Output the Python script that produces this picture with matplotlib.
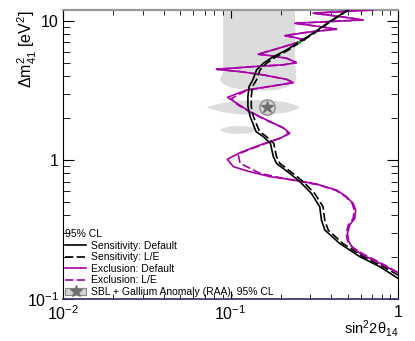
import numpy as np
import matplotlib
matplotlib.use("Agg")
import matplotlib.pyplot as plt
from matplotlib.lines import Line2D
from matplotlib.patches import Patch

plt.rcParams['font.family'] = ['Liberation Sans', 'DejaVu Sans']
plt.rcParams['mathtext.fontset'] = 'custom'
plt.rcParams['mathtext.rm'] = 'Liberation Sans'
plt.rcParams['mathtext.it'] = 'Liberation Sans:italic'

# sensitivity contours (sin^2 2theta14, dm2_41)
sens_def_x = [0.504, 0.391, 0.311, 0.259, 0.216, 0.180, 0.157, 0.143, 0.136, 0.129, 0.127, 0.127,
              0.131, 0.142, 0.157, 0.173, 0.180, 0.188, 0.226, 0.259, 0.304, 0.341, 0.349, 0.366,
              0.449, 0.590, 0.778, 1.0]
sens_def_y = [12.0, 9.9, 8.15, 7.1, 6.18, 5.53, 4.96, 4.44, 3.77, 3.37, 2.86, 2.42,
              2.05, 1.60, 1.47, 1.32, 1.06, 0.946, 0.80, 0.70, 0.575, 0.461, 0.37, 0.313,
              0.251, 0.202, 0.171, 0.141]
sens_le_x = [0.508, 0.396, 0.316, 0.264, 0.222, 0.187, 0.164, 0.150, 0.143, 0.135, 0.133, 0.133,
             0.137, 0.149, 0.164, 0.181, 0.188, 0.197, 0.236, 0.271, 0.318, 0.357, 0.365, 0.383,
             0.469, 0.616, 0.812, 1.0]
sens_le_y = [12.0, 9.9, 8.15, 7.1, 6.18, 5.53, 4.96, 4.44, 3.77, 3.37, 2.86, 2.42,
             2.05, 1.60, 1.47, 1.32, 1.06, 0.946, 0.80, 0.70, 0.575, 0.461, 0.37, 0.313,
             0.251, 0.202, 0.171, 0.149]

# exclusion contours
excl_def_x = [1.0, 0.892, 0.743, 0.618, 0.539, 0.508, 0.499, 0.515, 0.552, 0.559, 0.539, 0.492,
              0.429, 0.326, 0.237, 0.172, 0.130, 0.104, 0.0955, 0.114, 0.150, 0.197, 0.226,
              0.206, 0.164, 0.130, 0.109, 0.096, 0.125, 0.180, 0.237, 0.216, 0.157, 0.114,
              0.0825, 0.1365, 0.206, 0.2475, 0.216, 0.172, 0.146, 0.180, 0.226, 0.2775, 0.237,
              0.211, 0.297, 0.429, 0.341, 0.242, 0.391, 0.618, 0.449, 0.311, 0.470, 0.709]
excl_def_y = [0.155, 0.166, 0.186, 0.207, 0.231, 0.259, 0.297, 0.341, 0.380, 0.437, 0.488, 0.545,
              0.608, 0.672, 0.718, 0.759, 0.824, 0.895, 1.011, 1.129, 1.282, 1.432, 1.555,
              1.71, 1.94, 2.23, 2.56, 2.82, 3.19, 3.41, 3.60, 3.80, 4.09, 4.32,
              4.49, 4.69, 4.83, 5.01, 5.39, 5.63, 5.76, 6.19, 6.72, 7.30, 7.63,
              7.84, 8.33, 8.71, 9.10, 9.62, 9.89, 10.17, 10.75, 11.36, 11.67, 12.0]
excl_le_x = [1.0, 0.892, 0.743, 0.618, 0.535, 0.500, 0.490, 0.505, 0.540, 0.548, 0.532, 0.487,
             0.425, 0.330, 0.250, 0.206, 0.150, 0.114, 0.111, 0.150, 0.197, 0.222,
             0.206, 0.164, 0.130, 0.110, 0.101, 0.125, 0.180, 0.237, 0.216, 0.157, 0.114,
             0.0825, 0.1365, 0.206, 0.2475, 0.216, 0.172, 0.146, 0.180, 0.226, 0.2775, 0.237,
             0.211, 0.297, 0.429, 0.341, 0.242, 0.391, 0.618, 0.449, 0.311, 0.470, 0.709]
excl_le_y = [0.155, 0.168, 0.189, 0.211, 0.236, 0.262, 0.297, 0.341, 0.380, 0.437, 0.488, 0.545,
             0.605, 0.665, 0.705, 0.738, 0.802, 0.946, 1.105, 1.27, 1.43, 1.54,
             1.70, 1.93, 2.22, 2.50, 2.76, 3.17, 3.41, 3.60, 3.80, 4.09, 4.32,
             4.49, 4.69, 4.83, 5.01, 5.39, 5.63, 5.76, 6.19, 6.72, 7.30, 7.63,
             7.84, 8.33, 8.71, 9.10, 9.62, 9.89, 10.17, 10.75, 11.36, 11.67, 12.0]

# SBL + Gallium anomaly allowed regions
upper_x = [0.0904, 0.0904, 0.0890, 0.0864, 0.0880, 0.0925, 0.100, 0.1137, 0.135, 0.164, 0.192,
           0.2158, 0.236, 0.2475, 0.2442, 0.2419, 0.2442, 0.2419]
upper_y = [13.0, 4.32, 4.05, 3.87, 3.62, 3.46, 3.32, 3.22, 3.16, 3.15, 3.20,
           3.33, 3.52, 3.76, 4.69, 6.19, 8.15, 13.0]
mid_x = [0.0719, 0.078, 0.090, 0.107, 0.1365, 0.175, 0.215, 0.245, 0.259,
         0.245, 0.215, 0.175, 0.1365, 0.107, 0.090, 0.078]
mid_y = [2.39, 2.47, 2.57, 2.65, 2.70, 2.68, 2.60, 2.48, 2.39,
         2.30, 2.19, 2.13, 2.11, 2.14, 2.21, 2.31]
low_x = [0.0864, 0.090, 0.099, 0.111, 0.125, 0.137, 0.1429, 0.137, 0.125, 0.111, 0.099, 0.090]
low_y = [1.644, 1.69, 1.74, 1.757, 1.745, 1.70, 1.644, 1.59, 1.548, 1.538, 1.55, 1.60]
best_fit_x = 0.165
best_fit_y = 2.39

magenta = '#a800a8'

fig = plt.figure(figsize=(4.15, 3.41), dpi=100)
ax = fig.add_axes([0.152, 0.123, 0.807, 0.848])
ax.set_xscale('log')
ax.set_yscale('log')

gray = '#dcdcdc'
ax.fill(upper_x, upper_y, color=gray, lw=0, zorder=1)
ax.fill(mid_x, mid_y, color=gray, lw=0, zorder=1)
ax.fill(low_x, low_y, color=gray, lw=0, zorder=1)
ax.plot(best_fit_x, best_fit_y, 'o', ms=11, mfc='#d4d4d4', mec='#8a8a8a', mew=1.0, zorder=2)
ax.plot(best_fit_x, best_fit_y, '*', ms=9, color='#6e6e6e', zorder=3)

ax.plot(excl_def_x, excl_def_y, color=magenta, lw=1.2, zorder=4)
ax.plot(excl_le_x, excl_le_y, color=magenta, lw=1.2, ls=(0, (5, 2)), zorder=4)
ax.plot(sens_def_x, sens_def_y, color='black', lw=1.2, zorder=5)
ax.plot(sens_le_x, sens_le_y, color='black', lw=1.2, ls=(0, (5, 2)), zorder=5)
ax.plot(0.258, 7.1, 'o', ms=1.5, color='#22aa22', zorder=6)

ax.set_xlim(0.01, 1)
ax.set_ylim(0.1, 12.0)
ax.set_xticks([0.01, 0.1, 1])
ax.set_xticklabels(['10$^{-2}$', '10$^{-1}$', '1'])
ax.set_yticks([0.1, 1, 10])
ax.set_yticklabels(['10$^{-1}$', '1', '10'])
ax.tick_params(which='both', direction='in', top=True, right=True, labelsize=11.5)
ax.tick_params(axis='x', which='major', length=6, pad=4)
ax.tick_params(axis='x', which='minor', length=3.5)
ax.tick_params(axis='y', which='major', length=8, pad=3)
ax.tick_params(axis='y', which='minor', length=5)

ax.spines['top'].set_color('#999999')
ax.spines['top'].set_linewidth(1.6)
ax.spines['bottom'].set_color('#3c3c70')
ax.spines['bottom'].set_linewidth(1.3)

ax.set_xlabel('sin$^{2}$2θ$_{14}$', fontsize=10.5, ha='right', va='top')
ax.xaxis.set_label_coords(1.0, -0.066)
ax.set_ylabel('Δm$^{2}_{41}$ [eV$^{2}$]', fontsize=11.5, ha='right')
ax.yaxis.set_label_coords(-0.072, 1.0)

handles = [
    Line2D([], [], color='black', lw=1.2),
    Line2D([], [], color='black', lw=1.2, ls=(0, (5, 2))),
    Line2D([], [], color=magenta, lw=1.2),
    Line2D([], [], color=magenta, lw=1.2, ls=(0, (5, 2))),
    (Patch(facecolor='#d4d4d4', edgecolor='#8a8a8a', lw=0.8),
     Line2D([], [], marker='*', ls='none', ms=9, color='#6e6e6e')),
]
labels = ['Sensitivity: Default', 'Sensitivity: L/E', 'Exclusion: Default', 'Exclusion: L/E',
          'SBL + Gallium Anomaly (RAA), 95% CL']
leg = ax.legend(handles, labels, loc='lower left', bbox_to_anchor=(0.0, 0.0), frameon=False,
                fontsize=7.5, title='95% CL', title_fontsize=7.5, alignment='left',
                handlelength=2.0, handletextpad=0.5, labelspacing=0.15, borderpad=0.2,
                borderaxespad=0.0)
leg.set_zorder(10)

fig.savefig('out.png', dpi=100)
